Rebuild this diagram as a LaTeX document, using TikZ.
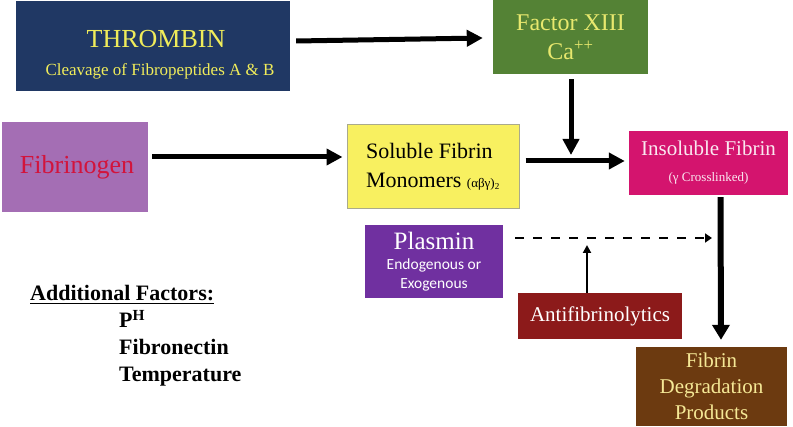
\documentclass[tikz,border=0pt]{standalone}
\usepackage{fontspec}
\setmainfont{Liberation Serif}
\newfontfamily\serifb{Liberation Serif}
\newfontfamily\calib{Carlito}
\usetikzlibrary{arrows.meta,calc}
\definecolor{navy}{RGB}{32,56,100}
\definecolor{thryel}{RGB}{240,236,90}
\definecolor{fgreen}{RGB}{84,130,53}
\definecolor{fyel}{RGB}{232,232,110}
\definecolor{lilac}{RGB}{164,110,180}
\definecolor{crimson}{RGB}{210,20,60}
\definecolor{lemon}{RGB}{248,240,96}
\definecolor{lemonedge}{RGB}{170,170,140}
\definecolor{magentab}{RGB}{212,20,110}
\definecolor{pinkwhite}{RGB}{250,232,240}
\definecolor{purp}{RGB}{112,48,160}
\definecolor{darkredb}{RGB}{140,26,26}
\definecolor{brownb}{RGB}{108,58,16}
\definecolor{paleyel}{RGB}{245,232,150}
\newcommand{\fsz}[2]{\fontsize{#1}{#2}\selectfont}
\begin{document}
\begin{tikzpicture}[x=1pt,y=-1pt,
  box/.style={rectangle, inner sep=0pt, align=center},
  bigarrow/.style={line width=5pt, -{Triangle[length=16pt,width=16pt]}},
  vertarrow/.style={line width=6pt, -{Triangle[length=15pt,width=17pt]}},
  dasharrow/.style={line width=2.7pt, dash pattern=on 9pt off 9pt, -{Triangle[length=7pt,width=9pt]}},
  thinarrow/.style={line width=2pt, -{Triangle[length=8pt,width=8pt]}},
  factor/.style={font=\serifb\bfseries\fsz{22}{24}, anchor=base west, inner sep=0pt}]
\useasboundingbox (0,0) rectangle (793,427);
\fill[white] (0,0) rectangle (793,427);

\node[box, fill=navy, minimum width=274pt, minimum height=90pt, text=thryel, font=\serifb\fsz{26}{28}] (thr) at (153,46)
  {\rule{0pt}{34pt}\hspace*{6pt}THROMBIN\\[0pt]\hspace*{14pt}{\serifb\fsz{17}{19}Cleavage of Fibropeptides A \& B}};
\node[box, fill=fgreen, minimum width=155pt, minimum height=74pt, text=fyel, font=\serifb\fsz{24}{29}] (f13) at (570.5,37)
  {Factor XIII\\Ca\textsuperscript{++}};
\node[box, fill=lilac, minimum width=146pt, minimum height=90pt, text=crimson, font=\serifb\fsz{26}{28}] (fib) at (75,167)
  {\hspace*{4pt}Fibrinogen};
\node[box, fill=lemon, draw=lemonedge, line width=1pt, minimum width=172pt, minimum height=84pt, align=left, font=\serifb\fsz{22}{29}] (sol) at (433,167)
  {Soluble Fibrin\\Monomers {\serifb\fsz{13}{15}(αβγ)\textsubscript{2}}};
\node[box, fill=magentab, minimum width=159pt, minimum height=64pt, text=pinkwhite, font=\serifb\fsz{21}{24}] (ins) at (708.5,163)
  {Insoluble Fibrin\\[2pt]{\serifb\fsz{13}{15}(γ Crosslinked)}};
\node[box, fill=purp, minimum width=138pt, minimum height=73pt, text=white, font=\calib\fsz{15.5}{19}] (pla) at (434,261.5)
  {{\serifb\fsz{25}{26}Plasmin}\\[1pt]Endogenous or\\Exogenous};
\node[box, fill=darkredb, minimum width=164pt, minimum height=46pt, text=white, font=\serifb\fsz{21}{24}] (anti) at (600,316)
  {Antifibrinolytics};
\node[box, fill=brownb, minimum width=151pt, minimum height=79pt, text=paleyel, font=\serifb\fsz{21}{26}] (fdp) at (711.5,386.5)
  {Fibrin\\Degradation\\Products};

\node[factor] (addf) at (30,301) {\underline{Additional Factors:}};
\node[factor] (ph) at (119,328) {P\textsuperscript{H}};
\node[factor] (fn) at (119,355) {Fibronectin};
\node[factor] (temp) at (119,382) {Temperature};

\coordinate (junc) at (571,161);
\coordinate (dend) at (712,238);
\coordinate (atip) at (587,245);

\draw[bigarrow] ($(thr.east)+(6,-5)$) -- ($(f13.west)+(-10,1)$);
\draw[bigarrow] ($(fib.east)+(4,-10)$) -- ($(sol.west)+(-4,-10)$);
\draw[bigarrow] ($(sol.east)+(6,-6)$) -- ($(ins.west)+(-4,-2)$);
\draw[bigarrow] ($(f13.south -| junc)+(0,5)$) -- ($(junc)+(0,-6)$);
\draw[vertarrow] ($(ins.south)+(12,2)$) -- ($(fdp.north)+(9.5,-7)$);
\draw[dasharrow] ($(pla.east)+(12,-23.5)$) -- (dend);
\draw[thinarrow] (anti.north -| atip) -- (atip);
\end{tikzpicture}
\end{document}
